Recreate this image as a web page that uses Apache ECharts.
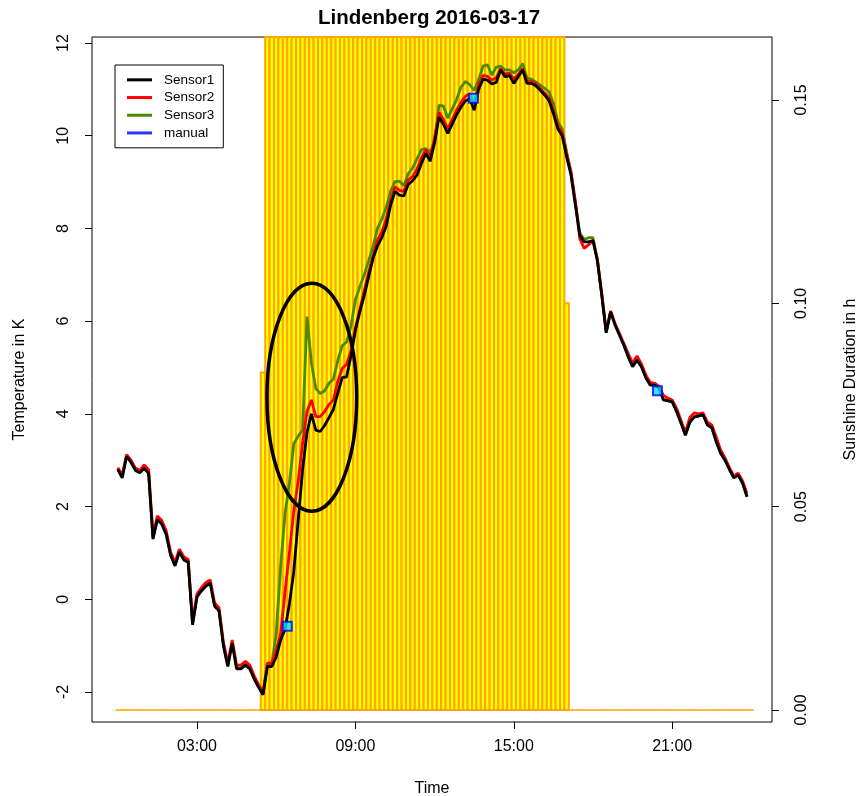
<!DOCTYPE html>
<html><head><meta charset="utf-8">
<script src="https://cdn.jsdelivr.net/npm/echarts@6/dist/echarts.min.js"></script>
<style>html,body{margin:0;padding:0;background:#fff}#c{width:858px;height:796px}</style>
</head><body><div id="c"></div><script>
// ---- data (10-minute resolution, hours since 00:00) ----
const timeStepH = 1 / 6;
const sensor1 = [
  2.80,2.62,3.08,2.95,2.78,2.73, 2.82,2.72,1.30,1.72,1.62,1.40,
  0.95,0.72,1.02,0.85,0.80,-0.55, 0.05,0.18,0.28,0.35,-0.15,-0.25,
  -1.00,-1.45,-0.95,-1.50,-1.50,-1.42, -1.50,-1.72,-1.90,-2.06,-1.45,-1.45,
  -1.25,-0.88,-0.65,-0.10,0.60,1.70, 2.80,3.60,4.00,3.65,3.62,3.75,
  3.92,4.10,4.45,4.78,4.80,5.25, 5.80,6.20,6.55,6.95,7.35,7.62,
  7.80,8.05,8.50,8.80,8.72,8.70, 8.95,9.03,9.15,9.40,9.62,9.45,
  9.85,10.40,10.25,10.05,10.25,10.45, 10.62,10.75,10.80,10.55,11.00,11.22,
  11.20,11.12,11.15,11.42,11.27,11.30, 11.13,11.27,11.42,11.13,11.13,11.08,
  10.98,10.88,10.76,10.48,10.15,10.00, 9.55,9.15,8.50,7.85,7.71,7.71,
  7.74,7.30,6.55,5.75,6.20,5.92, 5.70,5.48,5.23,5.02,5.16,5.02,
  4.78,4.62,4.62,4.55,4.30,4.28, 4.26,4.05,3.80,3.54,3.82,3.93,
  3.95,3.98,3.76,3.70,3.40,3.15, 3.00,2.80,2.62,2.68,2.50,2.21
];
const sensor2 = [
  2.84,2.68,3.12,3.00,2.83,2.78, 2.90,2.80,1.38,1.80,1.70,1.48,
  1.02,0.80,1.08,0.92,0.86,-0.48, 0.12,0.25,0.36,0.42,-0.08,-0.18,
  -0.92,-1.38,-0.88,-1.42,-1.42,-1.34, -1.42,-1.65,-1.84,-2.00,-1.38,-1.38,
  -1.10,-0.75,0.15,1.00,1.90,2.55, 3.37,4.05,4.30,3.94,3.94,4.05,
  4.20,4.30,4.70,4.98,5.07,5.35, 5.85,6.25,6.65,7.05,7.40,7.75,
  7.92,8.20,8.60,8.90,8.82,8.80, 9.05,9.12,9.28,9.52,9.70,9.55,
  9.95,10.50,10.35,10.15,10.35,10.55, 10.72,10.85,10.90,10.70,11.10,11.30,
  11.28,11.20,11.25,11.45,11.33,11.35, 11.22,11.32,11.45,11.18,11.17,11.12,
  11.02,10.92,10.82,10.55,10.22,10.05, 9.62,9.22,8.58,7.78,7.57,7.65,
  7.74,7.32,6.58,5.78,6.22,5.95, 5.74,5.52,5.30,5.10,5.25,5.08,
  4.84,4.68,4.66,4.60,4.40,4.34, 4.30,4.12,3.86,3.60,3.92,4.02,
  4.00,4.02,3.82,3.76,3.50,3.22, 3.05,2.84,2.66,2.72,2.55,2.28
];
const sensor3 = [
  2.82,2.64,3.10,2.97,2.80,2.75, 2.84,2.74,1.32,1.74,1.64,1.42,
  0.97,0.74,1.04,0.87,0.82,-0.53, 0.07,0.20,0.30,0.37,-0.13,-0.23,
  -0.98,-1.43,-0.93,-1.48,-1.48,-1.40, -1.48,-1.70,-1.88,-2.04,-1.40,-1.40,
  -0.75,0.70,1.85,2.50,3.35,3.52, 3.65,6.10,5.10,4.55,4.44,4.50,
  4.66,4.75,5.15,5.47,5.55,5.90, 6.46,6.74,7.00,7.30,7.60,8.00,
  8.20,8.45,8.80,9.01,9.02,8.92, 9.18,9.30,9.50,9.70,9.72,9.65,
  9.85,10.66,10.64,10.38,10.58,10.78, 11.05,11.17,11.10,10.98,11.20,11.50,
  11.53,11.31,11.48,11.50,11.42,11.42, 11.36,11.42,11.56,11.24,11.22,11.16,
  11.09,11.02,10.95,10.70,10.30,10.14, 9.65,9.20,8.55,7.90,7.76,7.80,
  7.80,7.33,6.57,5.76,6.21,5.93, 5.71,5.49,5.24,5.03,5.17,5.03,
  4.79,4.63,4.63,4.56,4.31,4.29, 4.27,4.06,3.81,3.55,3.83,3.94,
  3.96,3.99,3.77,3.71,3.41,3.16, 3.01,2.81,2.63,2.69,2.51,2.22
];
const manualTimes = [6.42, 13.47, 20.44];
const manualValues = [-0.58, 10.81, 4.50];
// sunshine duration per 10-minute slot, 00:00 .. 24:00
const sunshine = [
  0,0,0,0,0,0, 0,0,0,0,0,0, 0,0,0,0,0,0, 0,0,0,0,0,0, 0,0,0,0,0,0,
  0,0,0,0.083,0.1667,0.1667,
  0.1667,0.1667,0.1667,0.1667,0.1667,0.1667, 0.1667,0.1667,0.1667,0.1667,0.1667,0.1667,
  0.1667,0.1667,0.1667,0.1667,0.1667,0.1667, 0.1667,0.1667,0.1667,0.1667,0.1667,0.1667,
  0.1667,0.1667,0.1667,0.1667,0.1667,0.1667, 0.1667,0.1667,0.1667,0.1667,0.1667,0.1667,
  0.1667,0.1667,0.1667,0.1667,0.1667,0.1667, 0.1667,0.1667,0.1667,0.1667,0.1667,0.1667,
  0.1667,0.1667,0.1667,0.1667,0.1667,0.1667, 0.1667,0.1667,0.1667,0.1667,0.1667,0.1667,
  0.1667,0.1667,0.1667,0.1667,0.1667,0.1667,
  0.1,0,0,0,0,0,
  0,0,0,0,0,0, 0,0,0,0,0,0, 0,0,0,0,0,0, 0,0,0,0,0,0, 0,0,0,0,0,0, 0,0,0,0,0,0,
  0
];
const xTickValues = [3, 9, 15, 21];
const xTickLabels = ['03:00', '09:00', '15:00', '21:00'];
const tempTicks = [-2, 0, 2, 4, 6, 8, 10, 12];
const sunTicks = [0, 0.05, 0.10, 0.15];
const ellipseCenter = [7.35, 4.36];   // hours, K
const ellipseRadii = [1.70, 2.46];    // hours, K

// ---- chart ----
const FONT = '"Liberation Sans", Arial, Helvetica, sans-serif';
const chart = echarts.init(document.getElementById('c'), null, {renderer: 'canvas'});
const pairs = (vals) => vals.map((v, i) => [i * timeStepH, v]);

function lineSeries(name, vals, color, z) {
  return {
    type: 'line', name, data: pairs(vals), xAxisIndex: 0, yAxisIndex: 0,
    showSymbol: false, symbol: 'none', z, silent: true,
    lineStyle: {color, width: 2.8}, itemStyle: {color}
  };
}
const tickStyle = {show: true, length: 7, inside: false, lineStyle: {color: '#000', width: 1}};

const option = {
  animation: false,
  backgroundColor: '#fff',
  title: {
    text: 'Lindenberg 2016-03-17', left: 'center', top: 3, padding: [5, 0, 5, 6],
    textStyle: {fontSize: 20.5, fontWeight: 'bold', color: '#000', fontFamily: FONT}
  },
  legend: {
    orient: 'vertical', left: 115, top: 65, padding: [7, 9, 7, 12],
    itemGap: 2, itemWidth: 25, itemHeight: 3, icon: 'rect', selectedMode: false,
    backgroundColor: '#fff', borderColor: '#000', borderWidth: 1, borderRadius: 0,
    itemStyle: {borderWidth: 0},
    textStyle: {fontSize: 13.5, color: '#000', fontFamily: FONT, padding: [0, 0, 0, 7], lineHeight: 15.7},
    data: [
      {name: 'Sensor1', itemStyle: {color: '#000000'}},
      {name: 'Sensor2', itemStyle: {color: '#FF0000'}},
      {name: 'Sensor3', itemStyle: {color: '#4A8C00'}},
      {name: 'manual', itemStyle: {color: '#0000FF', borderWidth: 0}}
    ]
  },
  grid: {left: 92, right: 86, top: 37, bottom: 74, show: true, borderColor: '#000', borderWidth: 1,
    containLabel: false, outerBoundsMode: 'none'},
  xAxis: {
    type: 'value', min: -0.977, max: 24.78, position: 'bottom',
    axisLine: {show: false, onZero: false}, splitLine: {show: false},
    axisTick: Object.assign({customValues: xTickValues}, tickStyle),
    axisLabel: {customValues: xTickValues, formatter: v => xTickLabels[xTickValues.indexOf(Math.round(v))] || '',
      fontSize: 16, color: '#000', margin: 17, fontFamily: FONT},
    name: 'Time', nameLocation: 'middle', nameGap: 59,
    nameTextStyle: {fontSize: 16, color: '#000', fontFamily: FONT}
  },
  yAxis: [
    {
      type: 'value', min: -2.647, max: 12.13, position: 'left',
      axisLine: {show: false, onZero: false}, splitLine: {show: false},
      axisTick: Object.assign({customValues: tempTicks}, tickStyle),
      axisLabel: {customValues: tempTicks, rotate: 90, fontSize: 16, color: '#000', margin: 20, fontFamily: FONT,
        formatter: v => String(Math.round(v))},
      name: 'Temperature in K', nameLocation: 'middle', nameGap: 64, nameRotate: 90,
      nameTextStyle: {fontSize: 16, color: '#000', fontFamily: FONT}
    },
    {
      type: 'value', min: -0.00295, max: 0.1655, position: 'right',
      axisLine: {show: false, onZero: false}, splitLine: {show: false},
      axisTick: Object.assign({customValues: sunTicks}, tickStyle),
      axisLabel: {customValues: sunTicks, rotate: 90, fontSize: 16, color: '#000', margin: 22, fontFamily: FONT,
        formatter: v => v.toFixed(2)},
      name: 'Sunshine Duration in h', nameLocation: 'middle', nameGap: 71, nameRotate: 90,
      nameTextStyle: {fontSize: 16, color: '#000', fontFamily: FONT}
    }
  ],
  series: [
    {
      type: 'custom', name: 'sunshine', xAxisIndex: 0, yAxisIndex: 1, z: 1, silent: true,
      data: sunshine.map((v, i) => [i * timeStepH, v]),
      encode: {x: 0, y: 1},
      renderItem: (params, api) => {
        const t = api.value(0), v = api.value(1);
        const cs = params.coordSys;
        const pL = api.coord([t - timeStepH / 2, 0]);
        const pR = api.coord([t + timeStepH / 2, v]);
        if (v === 0) {
          return {type: 'line', shape: {x1: pL[0], y1: pL[1], x2: pR[0], y2: pL[1]},
            style: {stroke: '#FFA500', lineWidth: 1.6}};
        }
        const top = Math.max(pR[1], cs.y);
        return {type: 'rect', shape: {x: pL[0], y: top, width: pR[0] - pL[0], height: pL[1] - top},
          style: {fill: '#FFFF00', stroke: '#FFA500', lineWidth: 2}};
      }
    },
    lineSeries('Sensor3', sensor3, '#4A8C00', 2),
    lineSeries('Sensor2', sensor2, '#FF0000', 3),
    lineSeries('Sensor1', sensor1, '#000000', 4),
    {
      type: 'scatter', name: 'manual', xAxisIndex: 0, yAxisIndex: 0, z: 5, silent: true,
      data: manualTimes.map((t, i) => [t, manualValues[i]]),
      symbol: 'rect', symbolSize: 9,
      itemStyle: {color: '#00E5FF', borderColor: '#0000FF', borderWidth: 2}
    },
    {
      type: 'custom', name: 'highlight', xAxisIndex: 0, yAxisIndex: 0, z: 6, silent: true,
      data: [[ellipseCenter[0], ellipseCenter[1], ellipseRadii[0], ellipseRadii[1]]],
      encode: {x: 0, y: 1},
      renderItem: (params, api) => {
        const c = api.coord([api.value(0), api.value(1)]);
        const e = api.coord([api.value(0) + api.value(2), api.value(1) + api.value(3)]);
        return {type: 'ellipse', shape: {cx: c[0], cy: c[1], rx: Math.abs(e[0] - c[0]), ry: Math.abs(c[1] - e[1])},
          style: {fill: 'none', stroke: '#000', lineWidth: 3.5}};
      }
    }
  ]
};
chart.setOption(option);
</script></body></html>
